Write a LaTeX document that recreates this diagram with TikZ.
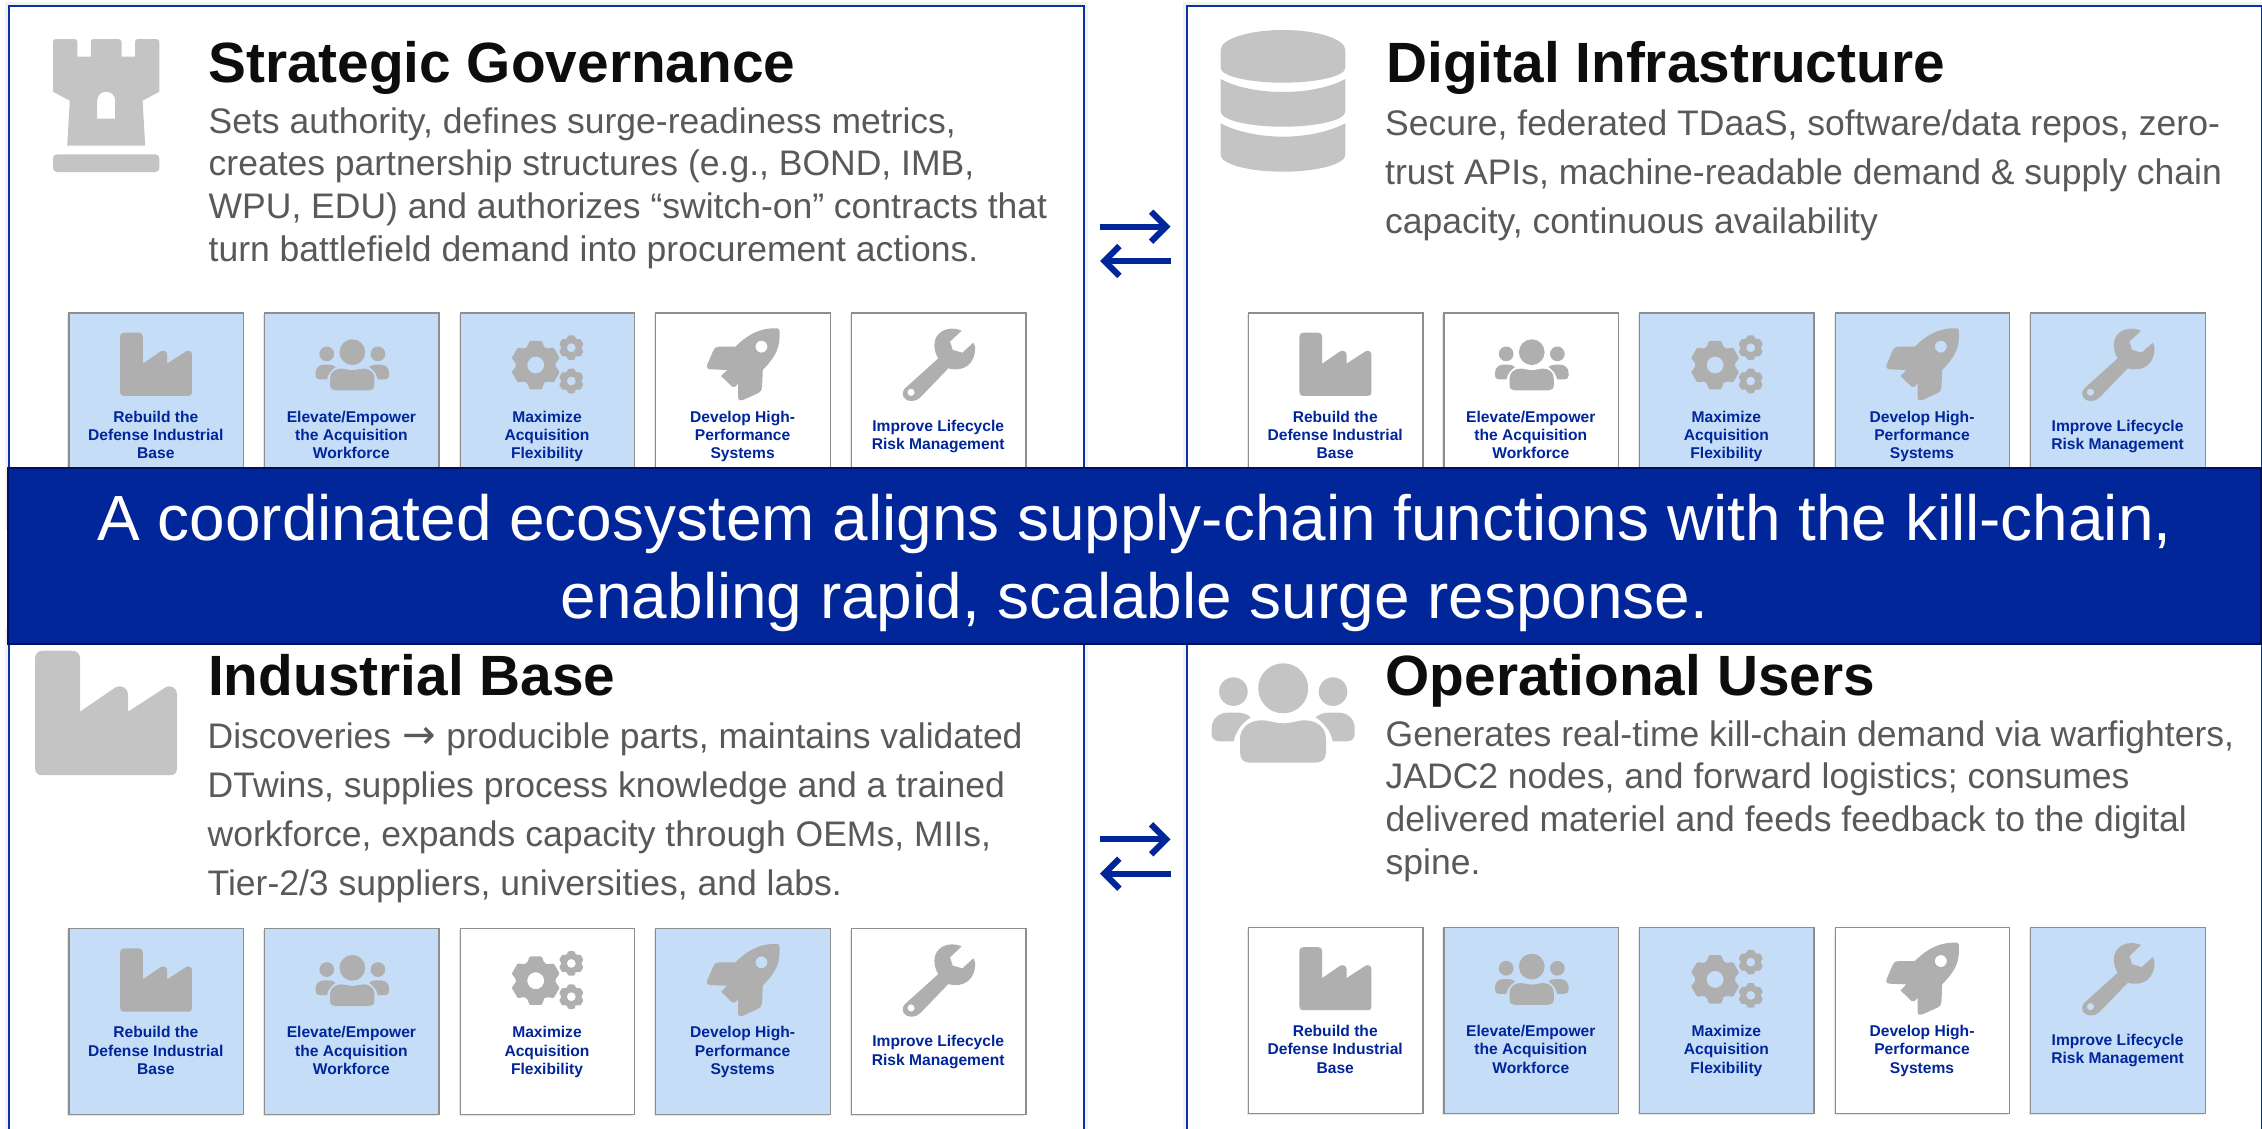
\documentclass[tikz,border=0pt]{standalone}
\usepackage{fontspec}
\setmainfont[Ligatures=NoCommon]{Liberation Sans}
\newfontfamily\arrowfont{DejaVu Sans}
\usetikzlibrary{arrows.meta,shadows,calc}
\definecolor{navy}{HTML}{00269A}
\definecolor{navyDark}{HTML}{001060}
\definecolor{frameBlue}{HTML}{0A30A8}
\definecolor{tileBlue}{HTML}{C5DDF6}
\definecolor{tileEdge}{HTML}{8E8E8E}
\definecolor{bodyGrey}{HTML}{595959}
\definecolor{titleBlack}{HTML}{0D0D0D}
\definecolor{iconBig}{HTML}{C4C4C4}
\definecolor{iconSmall}{HTML}{AFAFAF}
\tikzset{
  panelbox/.style={draw=frameBlue,line width=2.2pt,fill=white,rectangle,inner sep=0pt,anchor=north west,
    preaction={draw=black,draw opacity=.05,line width=8pt}},
  tileoff/.style={draw=tileEdge,line width=1.3pt,fill=white,rectangle,inner sep=0pt,anchor=north west,
    minimum width=174.5pt,minimum height=186pt,
    general shadow={fill=black,opacity=.1,shadow xshift=-1.5pt,shadow yshift=-1.5pt}},
  tileon/.style={tileoff,fill=tileBlue},
  tiletext/.style={text=navy,align=center,inner sep=0pt,font=\fontsize{15.6}{18.3}\selectfont\bfseries},
  paneltitle/.style={text=titleBlack,anchor=base west,inner sep=0pt,font=\fontsize{56.8}{60}\selectfont\bfseries},
  panelbody/.style={text=bodyGrey,anchor=base west,align=left,inner sep=0pt,font=\fontsize{35.5}{42.7}\selectfont},
  bannerbox/.style={rectangle,fill=navy,draw=navyDark,line width=2.2pt,inner sep=0pt,anchor=north west,
    minimum width=2253pt,minimum height=176pt},
  bannertext/.style={text=white,align=center,inner sep=0pt,font=\fontsize{63.9}{78}\selectfont},
  flow/.style={draw=navy,line width=6.2pt,-{Straight Barb[length=15pt,width=30pt,line width=6.2pt]}},
}
% icons, drawn about the current origin
\newcommand\bigFactory[1]{\fill[#1] (8,0) -- (37,0) .. controls (42,0) and (45,3) .. (45,8) -- (45,61) -- (80,37) .. controls (86,33) and (93,38) .. (93,43) -- (93,61) -- (130,37) .. controls (136,33) and (142,38) .. (142,43) -- (142,117) .. controls (142,122) and (140,124.5) .. (135,124.5) -- (7,124.5) .. controls (3,124.5) and (0,122) .. (0,117) -- (0,8) .. controls (0,3) and (3,0) .. (8,0) -- cycle;}
\newcommand\bigPeople[1]{\fill[#1] (71.5,25) circle (25) (21.7,28.3) circle (14.3) (121.3,28.3) circle (14.3);
\fill[#1] (28.3,76) .. controls (28.3,64) and (38,57) .. (50,57) .. controls (58,57) and (62,60) .. (71.5,60) .. controls (81,60) and (85,57) .. (93,57) .. controls (105,57) and (114.3,64) .. (114.3,76) -- (114.3,89) .. controls (114.3,96) and (110,99.3) .. (104,99.3) -- (38,99.3) .. controls (32,99.3) and (28.3,96) .. (28.3,89) -- cycle;
\fill[#1] (0,65) .. controls (0,55) and (8,49.3) .. (16,49.3) -- (26,49.3) .. controls (31,49.3) and (36,51) .. (39,54) .. controls (30,60) and (24,68) .. (22,78) -- (8,78) .. controls (3,78) and (0,75) .. (0,71) -- cycle;
\fill[#1] (143,65) .. controls (143,55) and (135,49.3) .. (127,49.3) -- (117,49.3) .. controls (112,49.3) and (107,51) .. (104,54) .. controls (113,60) and (119,68) .. (121,78) -- (135,78) .. controls (140,78) and (143,75) .. (143,71) -- cycle;}
\newcommand\gearAt[4]{\begin{scope}[shift={(#1,#2)}]
\pgfmathsetmacro\gearIn{0.8*#3}
\fill[iconSmall,even odd rule,rounded corners=1pt] (65:\gearIn) \foreach \a in {90,150,210,270,330,390}{ -- (\a-25:\gearIn) -- (\a-14:#3) -- (\a+14:#3) -- (\a+25:\gearIn)} -- cycle (0,0) circle (#4);
\end{scope}}
\newcommand\icF{\begin{scope}[shift={(51.7,20.4)},scale=.507]\bigFactory{iconSmall}\end{scope}}
\newcommand\icP{\begin{scope}[shift={(51.7,27)},scale=.514]\bigPeople{iconSmall}\end{scope}}
\newcommand\icG{\gearAt{76.2}{52.7}{25}{8.5}\gearAt{111.8}{35.4}{12.7}{4.5}\gearAt{111.8}{68.7}{12.7}{4.5}}
\newcommand\icR{\begin{scope}[scale=1/3,shift={(-314,-67)}]
\fill[iconSmall,even odd rule] (687,120) .. controls (687,117) and (685,115) .. (682,115) .. controls (640,113) and (600,125) .. (555,170) -- (505,170) .. controls (495,170) and (492,175) .. (488,183) -- (470,225) .. controls (468,235) and (472,238) .. (480,238) -- (530,240) -- (512,258) -- (545,290) .. controls (550,293) and (555,292) .. (563,280) -- (563,322) .. controls (564,332) and (570,333) .. (578,330) -- (622,310) .. controls (632,304) and (635,300) .. (635,290) -- (637,240) .. controls (680,195) and (690,170) .. (687,120) -- cycle (633,170) circle (18);
\end{scope}}
\newcommand\icW{\begin{scope}[scale=1/3,shift={(-902,-67)}]
\fill[iconSmall,even odd rule] (1235,122) .. controls (1195,105) and (1153,125) .. (1153,165) .. controls (1153,180) and (1158,195) .. (1165,205) -- (1065,295) .. controls (1050,312) and (1060,333) .. (1085,333) .. controls (1095,333) and (1103,330) .. (1110,323) -- (1195,235) .. controls (1240,248) and (1278,222) .. (1275,170) -- (1270,158) -- (1237,188) -- (1208,180) -- (1200,155) -- cycle (1083,307) circle (11);
\end{scope}}
% one tile: name, x, y, style, icon, text
\newcommand\myTile[6]{%
  \node[#4] (#1) at (#2,#3) {};
  \begin{scope}[shift={(#2,#3)}]#5\end{scope}
  \node[tiletext] (#1t) at ({#2+87.5},{#3+124}) {\rule{0pt}{11.5pt}#6\rule[-3.5pt]{0pt}{3.5pt}};}
% a row of five tiles: prefix, x, y, five styles
\newcommand\myRow[8]{%
  \myTile{#1a}{#2}{#3}{#4}{\icF}{Rebuild the\\Defense Industrial\\Base}
  \myTile{#1b}{#2+195.6}{#3}{#5}{\icP}{Elevate/Empower\\the Acquisition\\Workforce}
  \myTile{#1c}{#2+391.2}{#3}{#6}{\icG}{Maximize\\Acquisition\\Flexibility}
  \myTile{#1d}{#2+586.8}{#3}{#7}{\icR}{Develop High-\\Performance\\Systems}
  \myTile{#1e}{#2+782.4}{#3}{#8}{\icW}{Improve Lifecycle\\Risk Management}}
\begin{document}
\begin{tikzpicture}[x=1pt,y=-1pt]
\useasboundingbox (0,0) rectangle (2262,1128);
\clip (0,0) rectangle (2262,1128);
% panels
\node[panelbox,minimum width=1075pt,minimum height=520pt] (ptl) at (8,4.5) {};
\node[panelbox,minimum width=1075pt,minimum height=520pt] (ptr) at (1186,4.5) {};
\node[panelbox,minimum width=1075pt,minimum height=520pt] (pbl) at (8,630) {};
\node[panelbox,minimum width=1075pt,minimum height=520pt] (pbr) at (1186,630) {};
% connectors between the panels
\coordinate (a1) at (1099.5,226.7); \coordinate (a2) at (1170.5,226.7);
\coordinate (a3) at (1170.5,261); \coordinate (a4) at (1100,261);
\coordinate (a5) at (1099.5,839.3); \coordinate (a6) at (1170.5,839.3);
\coordinate (a7) at (1170.5,873.7); \coordinate (a8) at (1100,873.7);
\draw[flow] (a1) -- (a2);
\draw[flow] (a3) -- (a4);
\draw[flow] (a5) -- (a6);
\draw[flow] (a7) -- (a8);
% large icons
\begin{scope}[shift={(53,39)}]
\fill[iconBig,even odd rule] (3,0) -- (21,0) .. controls (23,0) and (24.3,1) .. (24.3,3) -- (24.3,17.7) -- (37.8,17.7) -- (37.8,3) .. controls (37.8,1) and (39,0) .. (41,0) -- (65,0) .. controls (67,0) and (68.5,1) .. (68.5,3) -- (68.5,17.7) -- (82,17.7) -- (82,3) .. controls (82,1) and (83,0) .. (85,0) -- (103,0) .. controls (105,0) and (106.4,1) .. (106.4,3) -- (106.4,52.7) -- (89.6,61.7) -- (92.2,106.7) -- (14.2,106.7) -- (16.8,61.7) -- (0,52.7) -- (0,3) .. controls (0,1) and (1,0) .. (3,0) -- cycle
(44.2,79.7) -- (62.2,79.7) -- (62.2,61.7) .. controls (62.2,56) and (58,52.7) .. (53.2,52.7) .. controls (48.4,52.7) and (44.2,56) .. (44.2,61.7) -- cycle;
\fill[iconBig,rounded corners=4pt] (0,115.3) rectangle (106.4,133);
\end{scope}
\begin{scope}[shift={(1220.7,30)}]
\fill[iconBig] (0,20) .. controls (0,9) and (28,0) .. (62.3,0) .. controls (96.6,0) and (124.6,9) .. (124.6,20) -- (124.6,38) .. controls (124.6,46) and (96.6,52.7) .. (62.3,52.7) .. controls (28,52.7) and (0,46) .. (0,38) -- cycle;
\fill[iconBig] (0,49) .. controls (14,57) and (38,62) .. (62.3,62) .. controls (87,62) and (110,57) .. (124.6,49) -- (124.6,81.7) .. controls (124.6,90) and (96.6,96.7) .. (62.3,96.7) .. controls (28,96.7) and (0,90) .. (0,81.7) -- cycle;
\fill[iconBig] (0,93.3) .. controls (14,101) and (38,106.7) .. (62.3,106.7) .. controls (87,106.7) and (110,101) .. (124.6,93.3) -- (124.6,125) .. controls (124.6,134) and (96.6,141.7) .. (62.3,141.7) .. controls (28,141.7) and (0,134) .. (0,125) -- cycle;
\end{scope}
\begin{scope}[shift={(35,650.7)}]\bigFactory{iconBig}\end{scope}
\begin{scope}[shift={(1211.7,663.3)}]\bigPeople{iconBig}\end{scope}
% panel text (the base of a body text is that of its last line)
\node[paneltitle] (ttl) at (208,82.7) {Strategic Governance};
\node[panelbody] (btl) at (208.5,261.1) {Sets authority, defines surge-readiness metrics,\\creates partnership structures (e.g., BOND, IMB,\\WPU, EDU) and authorizes “switch-on” contracts that\\turn battlefield demand into procurement actions.};
\node[paneltitle] (ttr) at (1386,82.7) {Digital Infrastructure};
\node[panelbody,font=\fontsize{35.5}{49}\selectfont] (btr) at (1385,233) {Secure, federated TDaaS, software/data repos, zero-\\trust APIs, machine-readable demand \& supply chain\\capacity, continuous availability};
\node[paneltitle] (tbl) at (208,695.5) {Industrial Base};
\node[panelbody,font=\fontsize{35.5}{49}\selectfont] (bbl) at (207.5,895) {Discoveries \makebox[1em][c]{\arrowfont\fontsize{40}{40}\selectfont →} producible parts, maintains validated\\DTwins, supplies process knowledge and a trained\\workforce, expands capacity through OEMs, MIIs,\\Tier-2/3 suppliers, universities, and labs.};
\node[paneltitle] (tbr) at (1385.5,695.5) {Operational Users};
\node[panelbody] (bbr) at (1385.5,874.3) {Generates real-time kill-chain demand via warfighters,\\JADC2 nodes, and forward logistics; consumes\\delivered materiel and feeds feedback to the digital\\spine.};
% tiles
\myRow{tl}{68.3}{312.3}{tileon}{tileon}{tileon}{tileoff}{tileoff}
\myRow{tr}{1247.7}{312.3}{tileoff}{tileoff}{tileon}{tileon}{tileon}
\myRow{bl}{68.3}{928}{tileon}{tileon}{tileoff}{tileon}{tileoff}
\myRow{br}{1247.7}{926.7}{tileoff}{tileon}{tileon}{tileoff}{tileon}
% banner
\node[bannerbox] (bn) at (7,467) {};
\node[bannertext] (bnt) at ($(bn.center)+(0,7)$) {A coordinated ecosystem aligns supply-chain functions with the kill-chain,\\enabling rapid, scalable surge response.};
\end{tikzpicture}
\end{document}
